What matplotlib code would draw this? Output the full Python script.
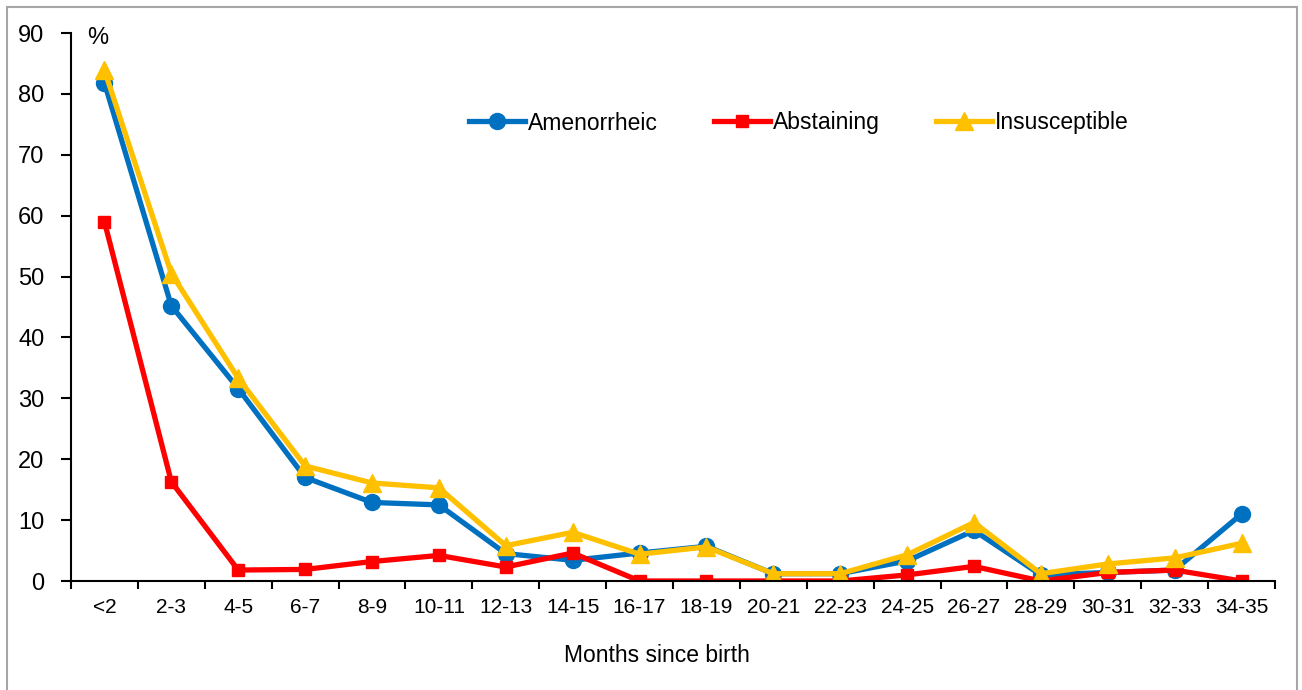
import matplotlib
matplotlib.use("Agg")
import matplotlib.pyplot as plt
from matplotlib.patches import Rectangle
from matplotlib import font_manager

categories = ["<2", "2-3", "4-5", "6-7", "8-9", "10-11", "12-13", "14-15", "16-17",
              "18-19", "20-21", "22-23", "24-25", "26-27", "28-29", "30-31", "32-33", "34-35"]
amenorrheic = [81.8, 45.2, 31.6, 17.0, 12.9, 12.5, 4.5, 3.4, 4.6, 5.7, 1.2, 1.2, 3.3, 8.3, 1.0, 1.4, 1.8, 11.0]
abstaining = [59.0, 16.3, 1.8, 1.9, 3.2, 4.2, 2.3, 4.6, 0.0, 0.0, 0.0, 0.0, 1.0, 2.4, 0.0, 1.4, 1.8, 0.0]
insusceptible = [83.9, 50.5, 33.3, 18.9, 16.1, 15.3, 5.8, 8.0, 4.4, 5.6, 1.2, 1.2, 4.3, 9.6, 1.2, 2.8, 3.8, 6.2]
yticks = list(range(0, 100, 10))

names = {f.name for f in font_manager.fontManager.ttflist}
fam = "Liberation Sans Narrow" if "Liberation Sans Narrow" in names else "Liberation Sans"
plt.rcParams["font.family"] = [fam, "DejaVu Sans"]

W, H = 1302, 690
fig = plt.figure(figsize=(W / 100, H / 100), dpi=100)
fig.patches.append(Rectangle((7 / W, -0.1), (1297 - 7) / W, 1.1 - 7 / H, transform=fig.transFigure,
                             fill=False, edgecolor="#a6a6a6", linewidth=1.5))
ax = fig.add_axes([71 / W, (H - 581) / H, (1275 - 71) / W, (581 - 33) / H])

x = list(range(len(categories)))
ax.plot(x, amenorrheic, color="#0070C0", lw=3.8, marker="o", ms=11.5, label="Amenorrheic", zorder=3)
ax.plot(x, abstaining, color="#FF0000", lw=3.8, marker="s", ms=8.5, label="Abstaining", zorder=3)
ax.plot(x, insusceptible, color="#FFC000", lw=3.8, marker="^", ms=12.5, label="Insusceptible", zorder=4)

ax.set_xlim(-0.5, len(categories) - 0.5)
ax.set_ylim(0, 90)
ax.set_yticks(yticks)
ax.set_xticks(x)
ax.set_xticklabels(categories)
ax.set_xticks([i - 0.5 for i in range(len(categories) + 1)], minor=True)
ax.tick_params(axis="x", which="major", length=0, pad=12, labelsize=15)
ax.tick_params(axis="x", which="minor", length=6, width=1.5, direction="out")
ax.tick_params(axis="y", length=7, width=1.5, pad=12, labelsize=17)
for s in ["top", "right"]:
    ax.spines[s].set_visible(False)
for s in ["left", "bottom"]:
    ax.spines[s].set_linewidth(1.5)
ax.spines["bottom"].set_zorder(5)

ax.text((98 - 71) / (1275 - 71), (581 - 38) / (581 - 33), "%", transform=ax.transAxes,
        fontsize=17, ha="center", va="center")
fig.text(657 / W, (H - 655) / H, "Months since birth", fontsize=16.5, ha="center", va="center")

leg = ax.legend(loc="center left", bbox_to_anchor=((448 - 71) / (1275 - 71), (581 - 123) / (581 - 33)),
                ncol=3, frameon=False, fontsize=16.5, handlelength=2.45, handletextpad=0.13,
                columnspacing=2.45, markerscale=1.0)

fig.savefig("out.png", dpi=100)
